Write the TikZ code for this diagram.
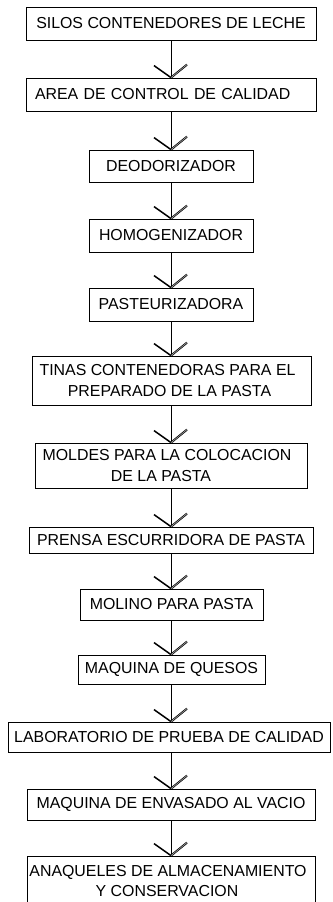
\documentclass[tikz,border=0pt]{standalone}
\usepackage{fontspec}
\setmainfont{Liberation Sans}
\begin{document}
\begin{tikzpicture}[x=1pt,y=-1pt,
  box/.style={draw=black,line width=0.8pt,inner sep=0pt,align=center,
    font=\fontsize{15.9}{20.5}\selectfont},
  link/.style={line width=0.8pt},
  armL/.style={line width=1.5pt},
  armR/.style={line width=0.7pt,double=gray!70,double distance=0.6pt}]
\clip (0,0) rectangle (332,902);
\fill[white] (0,0) rectangle (332,902);
\newcommand{\bx}[6]{\node[box,minimum width={#3-#2},minimum height={#5-#4}] (#1) at ({(#2+#3)/2},{(#4+#5)/2}) {#6};}
\bx{b1}{26}{316}{7}{40}{SILOS CONTENEDORES DE LECHE}
\node[box,minimum width=290,minimum height=33,text width=272,align=left] (b2) at (171,94.5) {AREA DE CONTROL DE CALIDAD};
\bx{b3}{89}{253}{150}{182}{DEODORIZADOR}
\bx{b4}{89}{253}{219}{252}{HOMOGENIZADOR}
\bx{b5}{89}{253}{288}{321}{PASTEURIZADORA}
\bx{b6}{32}{311}{356}{405}{TINAS CONTENEDORAS PARA EL\hspace*{8pt}\\PREPARADO DE LA PASTA\hspace*{4pt}}
\bx{b7}{35}{307}{443}{488}{MOLDES PARA LA COLOCACION\hspace*{8pt}\\DE LA PASTA\hspace*{20pt}}
\bx{b8}{29}{313}{527}{553}{PRENSA ESCURRIDORA DE PASTA}
\bx{b9}{80}{263}{589}{620}{MOLINO PARA PASTA}
\bx{b10}{78}{265}{655}{684}{MAQUINA DE QUESOS}
\bx{b11}{8}{330}{722}{752}{LABORATORIO DE PRUEBA DE CALIDAD}
\bx{b12}{27}{315}{789}{820}{MAQUINA DE ENVASADO AL VACIO}
\node[draw=black,line width=0.8pt,minimum width=288,minimum height=54,inner sep=0pt] (b13) at (171,883) {};
\node[inner sep=0pt,align=center,font=\fontsize{15.9}{20.5}\selectfont,anchor=north] (t13) at (171,865) {ANAQUELES DE ALMACENAMIENTO\hspace*{6pt}\\Y CONSERVACION\hspace*{8pt}};
\coordinate (tip) at (171,0);
\foreach \p/\q in {b1/b2,b2/b3,b3/b4,b4/b5,b5/b6,b6/b7,b7/b8,b8/b9,b9/b10,b10/b11,b11/b12,b12/b13}{
  \draw[link] (tip |- \p.south) -- (tip |- \q.north);
  \draw[armL] (tip |- \q.north) -- ++(-17,-12);
  \draw[armR] (tip |- \q.north) -- ++(16,-13);
}
\end{tikzpicture}
\end{document}
